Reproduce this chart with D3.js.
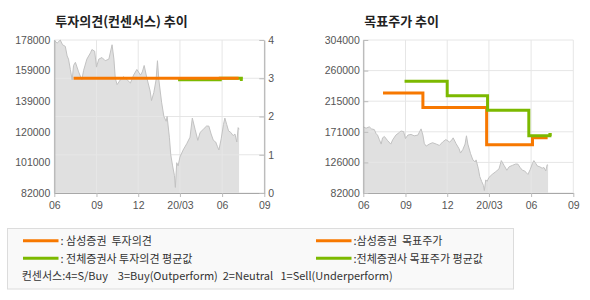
<!DOCTYPE html>
<html>
<head>
<meta charset="utf-8">
<script src="https://cdn.jsdelivr.net/npm/d3@7"></script>
<style>
  body { margin: 0; background: #fff; }
  text { font-family: "Liberation Sans", Arial, sans-serif; }
  .kr { font-family: "Noto Sans CJK KR", "Noto Sans", sans-serif; }
</style>
</head>
<body>
<svg id="chart" width="590" height="300"></svg>
<script>
// axis labels
const xTickDates = ['2019-06-01', '2019-09-01', '2019-12-01', '2020-03-01', '2020-06-01', '2020-09-01'];
const xTickLabels = ['06', '09', '12', '20/03', '06', '09'];
const priceLabels = ['82000', '101000', '120000', '139000', '159000', '178000'];
const opinionTicks = [0, 1, 2, 3, 4];
const targetLabels = ['82000', '126000', '171000', '215000', '260000', '304000'];

// stock price
const priceDates = [
  '2019-06-01', '2019-06-07', '2019-06-14', '2019-06-19', '2019-06-25', '2019-06-29',
  '2019-07-02', '2019-07-06', '2019-07-10', '2019-07-13', '2019-07-17', '2019-07-24',
  '2019-07-31', '2019-08-04', '2019-08-11', '2019-08-19', '2019-08-22', '2019-08-28',
  '2019-09-01', '2019-09-06', '2019-09-13', '2019-09-20', '2019-09-28', '2019-10-05',
  '2019-10-09', '2019-10-12', '2019-10-16', '2019-10-23', '2019-10-30', '2019-11-07',
  '2019-11-14', '2019-11-21', '2019-11-28', '2019-12-06', '2019-12-10', '2019-12-14',
  '2019-12-20', '2019-12-27', '2019-12-30', '2020-01-04', '2020-01-09', '2020-01-12',
  '2020-01-15', '2020-01-21', '2020-01-26', '2020-01-31', '2020-02-02', '2020-02-07',
  '2020-02-10', '2020-02-14', '2020-02-18', '2020-02-20', '2020-02-23', '2020-02-26',
  '2020-03-01', '2020-03-08', '2020-03-16', '2020-03-23', '2020-03-28', '2020-04-03',
  '2020-04-09', '2020-04-14', '2020-04-21', '2020-04-28', '2020-05-03', '2020-05-08',
  '2020-05-13', '2020-05-18', '2020-05-22', '2020-05-25', '2020-05-30', '2020-06-04',
  '2020-06-07', '2020-06-11', '2020-06-15', '2020-06-20', '2020-06-25', '2020-06-29',
  '2020-07-03', '2020-07-06', '2020-07-08'
];
const priceValues = [
  178000, 176000, 178000, 175000, 174000, 168000,
  166000, 159500, 153000, 162000, 164000, 158000,
  153000, 159000, 166000, 170000, 172000, 171000,
  161000, 166000, 167000, 165000, 166000, 175000,
  166000, 154000, 150000, 153000, 155000, 153000,
  151000, 156000, 159500, 156000, 158000, 162000,
  154000, 146000, 140000, 145000, 153000, 165000,
  153000, 139000, 130000, 127000, 130000, 117000,
  106000, 99000, 93000, 85500, 101000, 99000,
  104500, 109000, 113000, 117000, 129000, 122000,
  115000, 120000, 122000, 124000, 124000, 119000,
  115000, 114000, 111000, 109000, 116000, 125000,
  129000, 125000, 121000, 120000, 118000, 119000,
  114000, 123000, 122000
];

// investment opinion (right axis, 0-4)
const samsungOpinionDates = ['2019-07-13', '2020-07-07'];
const samsungOpinionValues = [3, 3];
const avgOpinionDates = ['2020-02-26', '2020-05-28', '2020-07-13', '2020-07-16'];
const avgOpinionValues = [2.96, 3, 2.97, 2.97];

// target price
const samsungTargetDates = ['2019-07-14', '2019-10-09', '2020-02-25', '2020-06-04', '2020-07-07'];
const samsungTargetValues = [227000, 206000, 152000, 162000, 162000];
const avgTargetDates = ['2019-08-30', '2019-12-01', '2020-02-27', '2020-05-27', '2020-07-12', '2020-07-16'];
const avgTargetValues = [244000, 223000, 202000, 165000, 167000, 167000];

const ORANGE = '#f77800';
const GREEN = '#7cb900';
const AXIS = '#a8a8a8';
const GRID = '#e6e6e6';
const LABEL = '#555';

const parse = d3.timeParse('%Y-%m-%d');
const price = priceDates.map((d, i) => ({ date: parse(d), value: priceValues[i] }));
const series = (dates, values) => dates.map((d, i) => ({ date: parse(d), value: values[i] }));
const xTicks = xTickDates.map(parse);
const keepSpaces = s => s.replace(/ /g, '\u00a0');

const svg = d3.select('#chart');
const plotTop = 40, plotBottom = 193;

function spread(labels) {
  const lo = +labels[0], hi = +labels[labels.length - 1];
  return labels.map((_, i) => lo + i * (hi - lo) / (labels.length - 1));
}

function styleAxis(g) {
  g.select('.domain').attr('stroke', AXIS);
  g.selectAll('.tick line').attr('stroke', '#bbb');
  g.selectAll('text').attr('fill', LABEL).attr('font-size', '10.5px');
}

function drawPanel(x0, x1, title, priceY, gridValues, gridY) {
  const x = d3.scaleTime().domain([xTicks[0], xTicks[xTicks.length - 1]]).range([x0, x1]);
  const g = svg.append('g');

  g.append('text')
    .attr('class', 'kr')
    .attr('x', x0 + 1).attr('y', 25.5)
    .attr('font-size', '13px').attr('font-weight', 'bold').attr('fill', '#222')
    .text(title);

  // price area
  g.append('path')
    .datum(price)
    .attr('fill', '#e0e0e0')
    .attr('d', d3.area().x(d => x(d.date)).y0(plotBottom).y1(d => priceY(d.value)));

  // grid
  g.append('g').selectAll('line').data(gridValues).join('line')
    .attr('x1', x0).attr('x2', x1)
    .attr('y1', d => gridY(d)).attr('y2', d => gridY(d))
    .attr('stroke', GRID);
  g.append('g').selectAll('line').data(xTicks).join('line')
    .attr('x1', d => x(d)).attr('x2', d => x(d))
    .attr('y1', plotTop).attr('y2', plotBottom)
    .attr('stroke', GRID);

  g.append('path')
    .datum(price)
    .attr('fill', 'none')
    .attr('stroke', '#c2c2c2')
    .attr('stroke-width', 1)
    .attr('d', d3.line().x(d => x(d.date)).y(d => priceY(d.value)));

  g.append('g')
    .attr('transform', `translate(0,${plotBottom})`)
    .call(d3.axisBottom(x).tickValues(xTicks).tickSize(4).tickSizeOuter(0).tickPadding(5)
      .tickFormat((d, i) => xTickLabels[i]))
    .call(styleAxis);

  return x;
}

// ---- left panel: 투자의견 ----
const yPriceL = d3.scaleLinear().domain([+priceLabels[0], +priceLabels[5]]).range([plotBottom, plotTop]);
const yOpinion = d3.scaleLinear().domain([0, 4]).range([plotBottom, plotTop]);
const xL = drawPanel(54.3, 264.3, '투자의견(컨센서스) 추이', yPriceL, opinionTicks, yOpinion);

svg.append('g')
  .attr('transform', 'translate(54.3,0)')
  .call(d3.axisLeft(yPriceL).tickValues(spread(priceLabels)).tickSize(0).tickPadding(4)
    .tickFormat((d, i) => priceLabels[i]))
  .call(styleAxis);

svg.append('g')
  .attr('transform', 'translate(264.3,0)')
  .call(d3.axisRight(yOpinion).tickValues(opinionTicks).tickSize(-5).tickSizeOuter(0).tickPadding(4)
    .tickFormat(d3.format('d')))
  .call(styleAxis);

const stepL = d3.line().x(d => xL(d.date)).y(d => yOpinion(d.value)).curve(d3.curveStepAfter);
svg.append('path').datum(series(avgOpinionDates, avgOpinionValues))
  .attr('fill', 'none').attr('stroke', GREEN).attr('stroke-width', 3).attr('d', stepL);
svg.append('path').datum(series(samsungOpinionDates, samsungOpinionValues))
  .attr('fill', 'none').attr('stroke', ORANGE).attr('stroke-width', 3).attr('d', stepL);

// ---- right panel: 목표주가 ----
const yTarget = d3.scaleLinear().domain([+targetLabels[0], +targetLabels[5]]).range([plotBottom, plotTop]);
const xR = drawPanel(363.3, 573.3, '목표주가 추이', yTarget, spread(targetLabels), yTarget);

svg.append('g')
  .attr('transform', 'translate(363.3,0)')
  .call(d3.axisLeft(yTarget).tickValues(spread(targetLabels)).tickSize(-5).tickSizeOuter(0).tickPadding(3.5)
    .tickFormat((d, i) => targetLabels[i]))
  .call(styleAxis);

const stepR = d3.line().x(d => xR(d.date)).y(d => yTarget(d.value)).curve(d3.curveStepAfter);
svg.append('path').datum(series(samsungTargetDates, samsungTargetValues))
  .attr('fill', 'none').attr('stroke', ORANGE).attr('stroke-width', 3).attr('d', stepR);
svg.append('path').datum(series(avgTargetDates, avgTargetValues))
  .attr('fill', 'none').attr('stroke', GREEN).attr('stroke-width', 3).attr('d', stepR);

// ---- legend ----
const legend = svg.append('g');
legend.append('rect')
  .attr('x', 7.5).attr('y', 228.5).attr('width', 506).attr('height', 60.5)
  .attr('fill', '#f9f9f9').attr('stroke', '#dcdcdc');

const legendItems = [
  { color: ORANGE, label: ': 삼성증권  투자의견', x: 23, y: 240.7 },
  { color: GREEN, label: ': 전체증권사 투자의견 평균값', x: 23, y: 258.3 },
  { color: ORANGE, label: ':삼성증권  목표주가', x: 316, y: 240.7 },
  { color: GREEN, label: ':전체증권사 목표주가 평균값', x: 316, y: 258.3 }
];
legendItems.forEach(it => {
  legend.append('line')
    .attr('x1', it.x).attr('x2', it.x + 35.5)
    .attr('y1', it.y).attr('y2', it.y)
    .attr('stroke', it.color).attr('stroke-width', 3);
  legend.append('text')
    .attr('class', 'kr')
    .attr('x', it.x + 37.5).attr('y', it.y + 4.5)
    .attr('font-size', '11px').attr('fill', '#333')
    .text(keepSpaces(it.label));
});
legend.append('text')
  .attr('class', 'kr')
  .attr('x', 21.7).attr('y', 280)
  .attr('font-size', '11px').attr('fill', '#333')
  .text(keepSpaces('컨센서스:4=S/Buy    3=Buy(Outperform)  2=Neutral   1=Sell(Underperform)'));
</script>
</body>
</html>
